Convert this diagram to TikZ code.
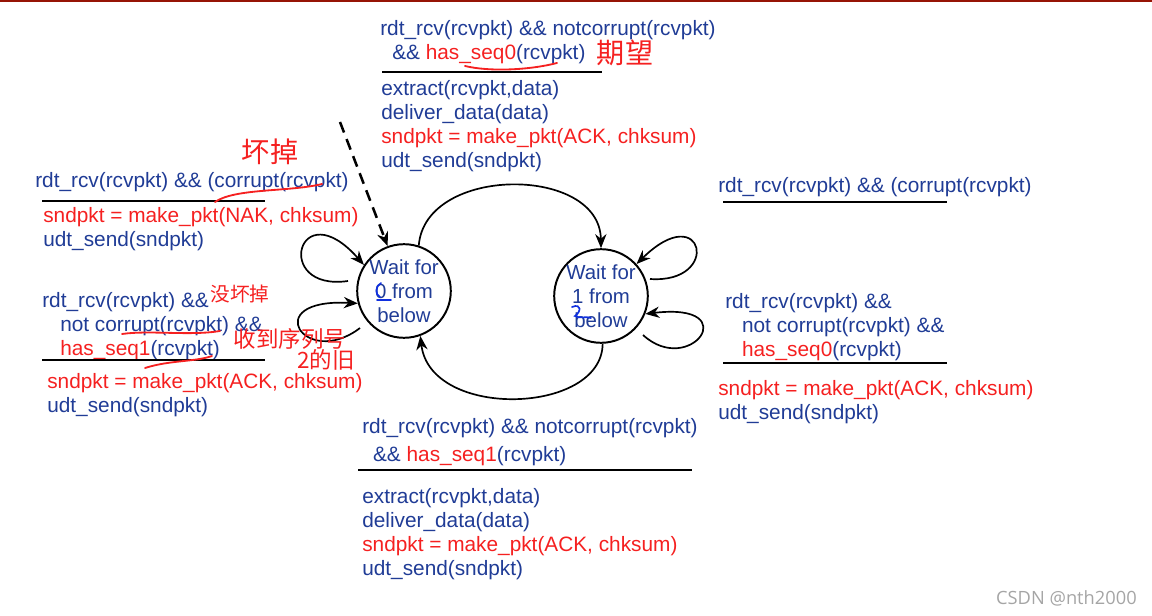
\documentclass[tikz,border=0pt]{standalone}
\usepackage{fontspec}
\setmainfont{Liberation Sans}
\newfontfamily\cjkhand{Noto Sans CJK SC}
\newfontfamily\wmfont{Open Sans}
\usetikzlibrary{arrows.meta, positioning}
\definecolor{rdtblue}{HTML}{203C96}
\definecolor{rdtred}{HTML}{F52020}
\definecolor{penblue}{HTML}{1030E0}
\definecolor{barred}{RGB}{150,20,5}
\definecolor{wmgray}{RGB}{165,165,165}
\newcommand{\fsm}{\fontsize{14.8}{17.07}\selectfont}
\newcommand{\hl}[1]{\textcolor{rdtred}{#1}}
\tikzset{
  guard/.style={inner sep=0pt, anchor=north west, align=left, font=\fsm, text=rdtblue},
  action/.style={guard},
  state/.style={circle, draw, line width=1.4pt, minimum size=2.3cm, inner sep=0pt,
                align=center, font=\fontsize{14.5}{17.07}\selectfont, text=rdtblue},
  trans/.style={-{Stealth[length=10pt,width=8pt]}, line width=1.2pt},
  rule/.style={line width=2pt},
  hand/.style={rdtred, line width=1.3pt, line cap=round},
  pen/.style={penblue, line width=1.2pt, line cap=round},
  handtxt/.style={text=rdtred, inner sep=0pt, font=\cjkhand\fontsize{20}{20}\selectfont},
}

\begin{document}
\begin{tikzpicture}[x=0.025cm, y=-0.025cm]
  \useasboundingbox (0,0) rectangle (1152,616);
  \fill[barred] (0,0) rectangle (1152,2);

  % --- States ---
  \node[state] (wait0) at (404,291) {Wait for\\ 0 from\\ below};
  \node[state] (wait1) at (601,296) {Wait for\\ 1 from\\ below};

  % --- Top: wait0 -> wait1 ---
  \node[guard] (g01) at (380,20)
        {rdt\_rcv(rcvpkt) \&\& notcorrupt(rcvpkt)\\
         \hspace*{0.3cm}\&\& \hl{has\_seq0}(rcvpkt)};
  \draw[rule] (382,72) -- (602,72);
  \node[action] (a01) at (381,80)
        {extract(rcvpkt,data)\\ deliver\_data(data)\\
         \hl{sndpkt = make\_pkt(ACK, chksum)}\\ udt\_send(sndpkt)};

  % --- Left: corrupt loop ---
  \node[guard] (g00a) at (35,172) {rdt\_rcv(rcvpkt) \&\& (corrupt(rcvpkt)};
  \draw[rule] (42,201) -- (265,201);
  \node[action] (a00a) at (43,207)
        {\hl{sndpkt = make\_pkt(NAK, chksum)}\\ udt\_send(sndpkt)};

  % --- Left: duplicate loop ---
  \node[guard] (g00b) at (42,292)
        {rdt\_rcv(rcvpkt) \&\&\\
         \hspace*{0.45cm}not corrupt(rcvpkt) \&\&\\
         \hspace*{0.45cm}\hl{has\_seq1}(rcvpkt)};
  \draw[rule] (42,360) -- (265,360);
  \node[action] (a00b) at (47,373)
        {\hl{sndpkt = make\_pkt(ACK, chksum)}\\ udt\_send(sndpkt)};

  % --- Right: corrupt loop ---
  \node[guard] (g11a) at (718,177) {rdt\_rcv(rcvpkt) \&\& (corrupt(rcvpkt)};
  \draw[rule] (723,202) -- (947,202);

  % --- Right: duplicate loop ---
  \node[guard] (g11b) at (725,293)
        {rdt\_rcv(rcvpkt) \&\&\\
         \hspace*{0.42cm}not corrupt(rcvpkt) \&\&\\
         \hspace*{0.42cm}\hl{has\_seq0}(rcvpkt)};
  \draw[rule] (723,363) -- (947,363);
  \node[action] (a11b) at (718,380)
        {\hl{sndpkt = make\_pkt(ACK, chksum)}\\ udt\_send(sndpkt)};

  % --- Bottom: wait1 -> wait0 ---
  \node[guard, font=\fontsize{14.8}{19.9}\selectfont] (g10) at (362,418)
        {rdt\_rcv(rcvpkt) \&\& notcorrupt(rcvpkt)\\
         \hspace*{0.27cm}\&\& \hl{has\_seq1}(rcvpkt)};
  \draw[rule] (358,470) -- (692,470);
  \node[action] (a10) at (362,488)
        {extract(rcvpkt,data)\\ deliver\_data(data)\\
         \hl{sndpkt = make\_pkt(ACK, chksum)}\\ udt\_send(sndpkt)};

  % --- Transitions ---
  \coordinate (init) at (340,122);
  \coordinate (t0a) at (348,281);
  \coordinate (t0b) at (360,328);
  \coordinate (t1a) at (650,279);
  \coordinate (t1b) at (643,335);
  \draw[trans, dash pattern=on 8pt off 5pt, line width=1.8pt] (init) -- (wait0.110);
  \draw[trans] (wait0.72) .. controls (425,165) and (600,165) .. (wait1.90);
  \draw[trans] (wait1.272) .. controls (602,415) and (430,420) .. (wait0.290);
  \draw[trans] (t0a) .. controls (272,292) and (298,190) .. (wait0.147);
  \draw[trans] (t0b) .. controls (305,370) and (258,298) .. (wait0.195);
  \draw[trans] (t1a) .. controls (722,284) and (704,198) .. (wait1.42);
  \draw[trans] (t1b) .. controls (690,378) and (746,302) .. (wait1.-22);

  % --- Handwritten notes ---
  \node[handtxt] (n1) at (625,53) {期望};
  \node[handtxt] (n2) at (270,152) {坏掉};
  \node[handtxt, font=\cjkhand\fontsize{14}{14}\selectfont] (n3) at (240,294) {没坏掉};
  \node[handtxt, font=\cjkhand\fontsize{16}{16}\selectfont] (n4) at (290,339) {收到序列号};
  \node[handtxt, font=\cjkhand\fontsize{16}{16}\selectfont] (n5) at (326,360) {2的旧};
  \draw[hand] (465,66) .. controls (490,72) and (530,70) .. (557,63);
  \draw[hand] (215,202) .. controls (235,188) and (290,192) .. (322,184);
  \draw[hand] (122,334) .. controls (150,330) and (190,336) .. (220,331);
  \draw[hand] (145,368) .. controls (170,360) and (195,362) .. (212,356);
  \draw[pen] (377,300) -- (391,300);
  \draw[pen] (381,283) .. controls (375,286) and (375,295) .. (380,297);
  \draw[pen] (572,307) .. controls (582,303) and (581,312) .. (575,316)
             .. controls (580,319) and (586,316) .. (591,318);

  % --- Watermark ---
  \node[font=\wmfont\fontsize{13}{13}\selectfont, text=wmgray, anchor=east, inner sep=0pt]
        (wm) at (1137,598) {CSDN @nth2000};
\end{tikzpicture}
\end{document}
